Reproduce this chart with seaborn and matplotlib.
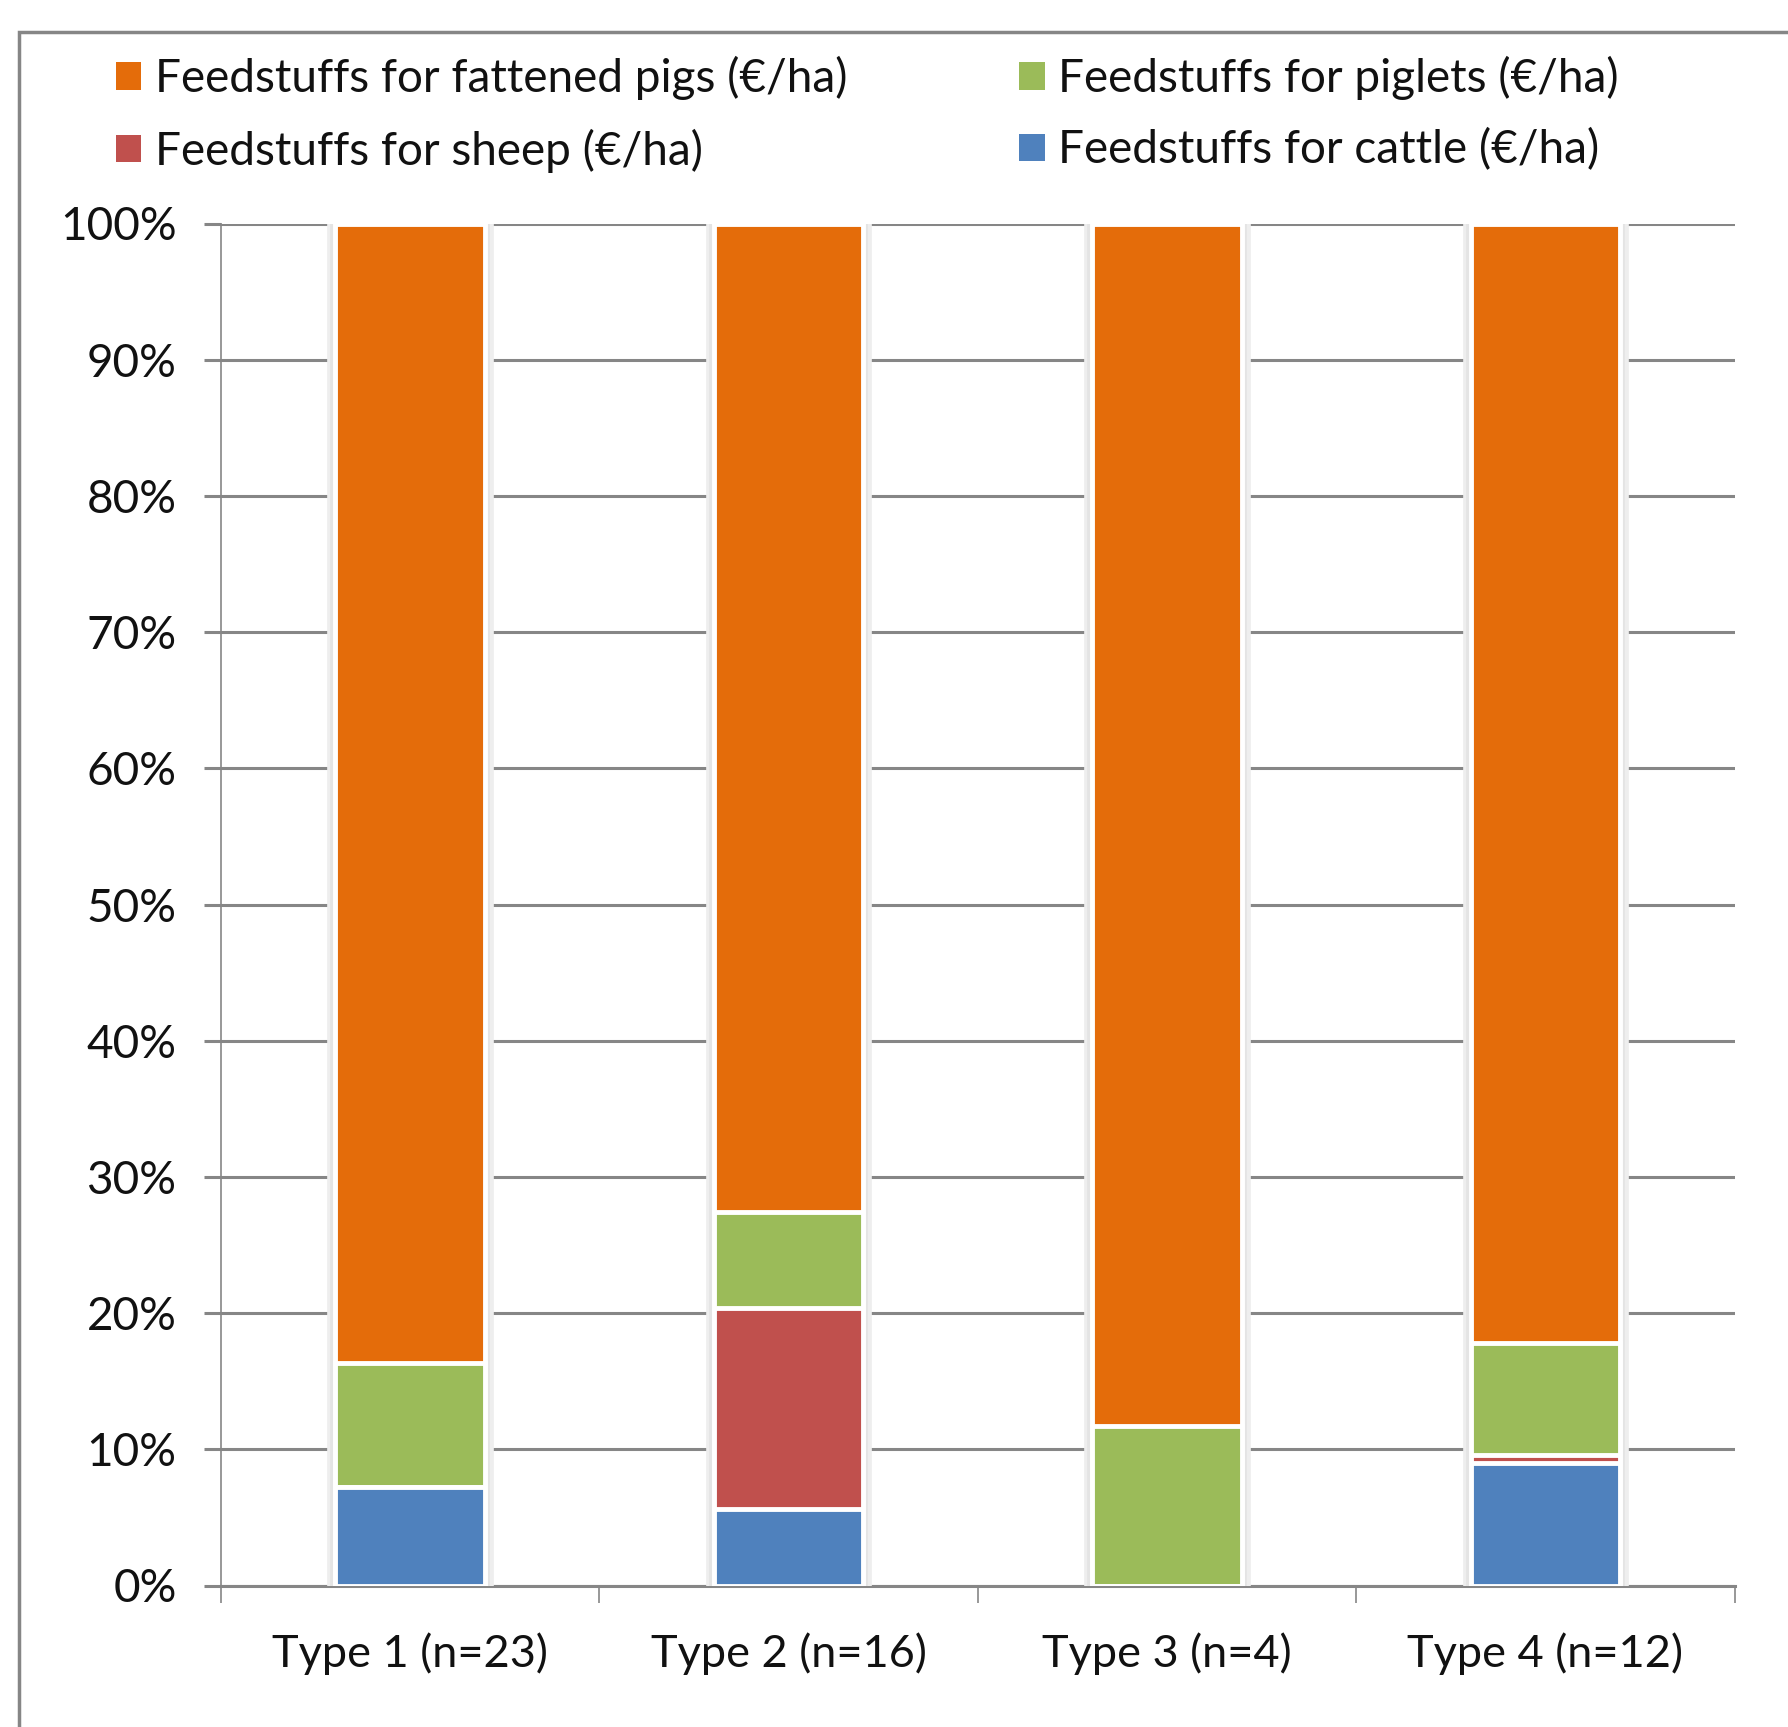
import matplotlib
matplotlib.use("Agg")
import matplotlib.pyplot as plt
from matplotlib import font_manager
from matplotlib import patheffects as pe
from matplotlib.patches import Patch, Rectangle
import seaborn as sns

# Share of feed costs per farm type (%), stacked bottom to top
categories = ["Type 1 (n=23)", "Type 2 (n=16)", "Type 3 (n=4)", "Type 4 (n=12)"]
cattle = [7.2, 5.6, 0.0, 9.0]
sheep = [0.0, 14.8, 0.0, 0.6]
piglets = [9.1, 7.0, 11.7, 8.2]
fattened_pigs = [83.7, 72.6, 88.3, 82.2]

series_labels = [
    "Feedstuffs for cattle (€/ha)",
    "Feedstuffs for sheep (€/ha)",
    "Feedstuffs for piglets (€/ha)",
    "Feedstuffs for fattened pigs (€/ha)",
]
y_ticks = [0, 10, 20, 30, 40, 50, 60, 70, 80, 90, 100]
y_tick_labels = ["0%", "10%", "20%", "30%", "40%", "50%", "60%", "70%", "80%", "90%", "100%"]

colors = ["#4F81BD", "#C0504D", "#9BBB59", "#E46C0A"]
grid_gray = "#868686"

sns.set_theme(style="white")
installed = {f.name for f in font_manager.fontManager.ttflist}
family = [f for f in ["Lato", "Open Sans", "DejaVu Sans"] if f in installed]
plt.rcParams["font.family"] = family

fig = plt.figure(figsize=(17.88, 17.27), dpi=100)
ax = fig.add_axes([221 / 1788, 1 - 1585.5 / 1727, (1734.5 - 221) / 1788, (1585.5 - 223.5) / 1727])

# cumulative tops for the layered stack
layers = [cattle, sheep, piglets, fattened_pigs]
tops = []
running = [0.0] * len(categories)
for layer in layers:
    running = [r + v for r, v in zip(running, layer)]
    tops.append(list(running))

# draw from the tallest layer down so lower segments sit on top
for i in reversed(range(len(layers))):
    sns.barplot(x=categories, y=tops[i], color=colors[i], saturation=1,
                width=0.395, edgecolor="white", linewidth=3.5, errorbar=None,
                ax=ax, zorder=3)

# soft halo around each full column
for patch in ax.patches[:len(categories)]:
    patch.set_path_effects([pe.Stroke(linewidth=12, foreground="#eeeeee"),
                            pe.Stroke(linewidth=7, foreground="#e4e4e4"),
                            pe.Normal()])

ax.set_xlim(-0.5, 3.5)
ax.set_ylim(0, 100)
ax.set_yticks(y_ticks)
ax.set_yticklabels(y_tick_labels)
ax.set_xlabel("")
ax.set_ylabel("")
ax.yaxis.grid(True, color=grid_gray, linewidth=2.2, zorder=0)
ax.set_axisbelow(True)

for side in ["top", "right"]:
    ax.spines[side].set_visible(False)
ax.spines["bottom"].set_color(grid_gray)
ax.spines["bottom"].set_linewidth(2.2)
ax.spines["left"].set_color(grid_gray)
ax.spines["left"].set_linewidth(1.2)
ax.spines["left"].set_bounds(0, 100)

ax.tick_params(axis="y", which="major", direction="out", length=12, width=2.2,
               color=grid_gray, pad=20, labelsize=33, labelcolor="#111111", left=True)
ax.set_xticks([-0.5, 0.5, 1.5, 2.5, 3.5], minor=True)
ax.tick_params(axis="x", which="minor", direction="out", length=12, width=1.2,
               color=grid_gray, bottom=True)
ax.tick_params(axis="x", which="major", length=0, pad=34, labelsize=32.5,
               labelcolor="#111111")

# legend in two columns above the plot
handles = [Patch(facecolor=c, edgecolor="none") for c in colors]
order = [3, 1, 2, 0]
fig.legend([handles[k] for k in order], [series_labels[k] for k in order],
           ncol=2, loc="upper left", bbox_to_anchor=(116 / 1788, 1 - 56 / 1727),
           frameon=False, fontsize=33, handlelength=0.55, handleheight=0.55,
           handletextpad=0.3, labelspacing=0.62, columnspacing=3.75,
           borderpad=0, borderaxespad=0, labelcolor="#111111")

# outer chart frame
fig.patches.append(Rectangle((19 / 1788, -0.05), 1.2, 1 - 32 / 1727 + 0.05,
                             transform=fig.transFigure, fill=False,
                             edgecolor=grid_gray, linewidth=2.5))

fig.savefig("out.png", dpi=100, facecolor="white")
